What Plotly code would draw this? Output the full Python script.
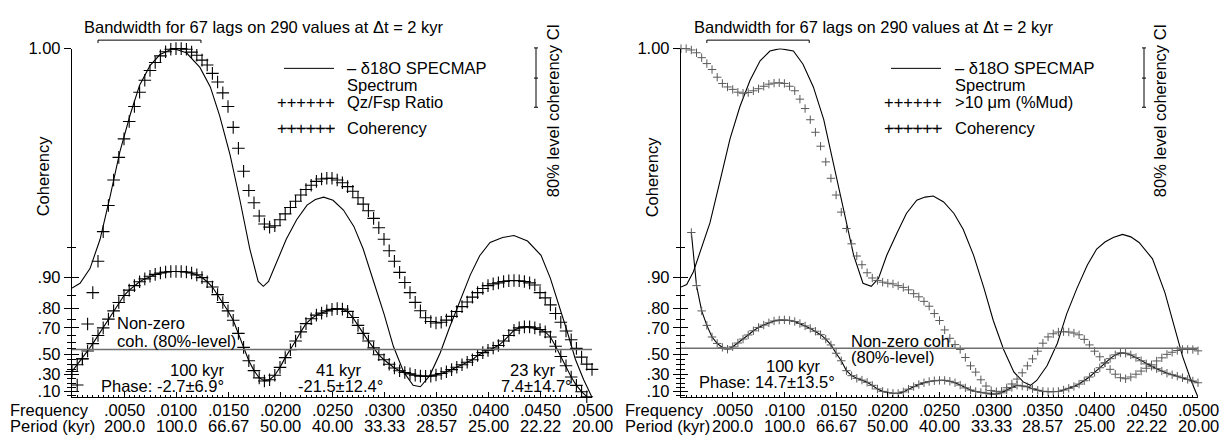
import numpy as np
import plotly.graph_objects as go

W, H = 1231, 444
FONT = "Liberation Sans, Arial, Helvetica, sans-serif"

# ---------------- data (frequencies in 1e-3 cycles/kyr) ----------------
FREQ_STEP = 0.5  # spacing of the spectral estimates (1e-3 cycles/kyr)

# Left panel: d18O SPECMAP spectrum (normalised, 0 = baseline, 1 = top)
L_SPEC_F = [0, 0.77, 1.73, 2.7, 3.65, 4.6, 5.6, 6.5, 7.5, 8.46, 9.74, 11.0, 12.3, 13.3, 14.2,
            15.2, 16.15, 17.1, 17.9, 18.4, 18.9, 19.7, 20.6, 21.6, 22.6, 23.4, 24.2, 25.1, 26.1,
            27.1, 28.0, 29.0, 30.0, 30.9, 31.9, 32.8, 33.5, 34.4, 35.4, 36.3, 37.3, 38.3, 39.2,
            40.2, 41.4, 42.5, 43.8, 45.1, 46.0, 46.7, 47.6, 48.4, 49.2, 50.0]
L_SPEC_S = [0.313, 0.327, 0.369, 0.453, 0.574, 0.704, 0.811, 0.895, 0.951, 0.983, 1.0, 0.988,
            0.946, 0.89, 0.807, 0.695, 0.565, 0.425, 0.332, 0.318, 0.332, 0.388, 0.453, 0.509,
            0.551, 0.567, 0.574, 0.565, 0.537, 0.49, 0.425, 0.332, 0.239, 0.146, 0.072, 0.034,
            0.03, 0.062, 0.127, 0.2, 0.276, 0.351, 0.406, 0.444, 0.458, 0.464, 0.448, 0.407,
            0.341, 0.276, 0.19, 0.109, 0.05, 0.0]

# Left panel: Qz/Fsp ratio spectrum, from f = 0.5
L_QZ_F0 = 0.5
L_QZ_S = [0.035, 0.11, 0.21, 0.30, 0.39, 0.475, 0.55, 0.623, 0.688, 0.741,
          0.791, 0.834, 0.875, 0.909, 0.937, 0.96, 0.979, 0.991, 0.998, 1.0,
          1.0, 0.998, 0.99, 0.981, 0.967, 0.953, 0.929, 0.904, 0.873, 0.834,
          0.774, 0.714, 0.648, 0.593, 0.558, 0.52, 0.497, 0.488, 0.492, 0.509,
          0.526, 0.544, 0.562, 0.58, 0.596, 0.608, 0.619, 0.626, 0.628, 0.628,
          0.623, 0.615, 0.604, 0.591, 0.572, 0.554, 0.535, 0.513, 0.486, 0.453,
          0.42, 0.39, 0.358, 0.329, 0.30, 0.272, 0.248, 0.228, 0.217, 0.213,
          0.215, 0.221, 0.232, 0.246, 0.26, 0.273, 0.287, 0.30, 0.312, 0.32,
          0.325, 0.328, 0.332, 0.334, 0.335, 0.334, 0.332, 0.328, 0.322, 0.30,
          0.285, 0.265, 0.24, 0.215, 0.19, 0.165, 0.14, 0.115, 0.095, 0.08]

# Left panel: coherency, from f = 0
L_COH_F0 = 0.0
L_COH = [0.33, 0.40, 0.46, 0.53, 0.59, 0.65, 0.70, 0.75, 0.79, 0.825,
         0.85, 0.867, 0.88, 0.89, 0.897, 0.903, 0.907, 0.91, 0.912, 0.913,
         0.913, 0.913, 0.912, 0.91, 0.906, 0.90, 0.89, 0.876, 0.853, 0.825,
         0.79, 0.744, 0.665, 0.56, 0.44, 0.34, 0.26, 0.225, 0.24, 0.29,
         0.374, 0.47, 0.54, 0.61, 0.675, 0.725, 0.752, 0.77, 0.78, 0.79,
         0.797, 0.80, 0.798, 0.788, 0.758, 0.715, 0.665, 0.61, 0.556, 0.496,
         0.45, 0.405, 0.368, 0.339, 0.32, 0.305, 0.29, 0.28, 0.278, 0.28,
         0.293, 0.308, 0.327, 0.35, 0.375, 0.40, 0.425, 0.45, 0.49, 0.515,
         0.535, 0.555, 0.575, 0.61, 0.65, 0.685, 0.70, 0.706, 0.706, 0.70,
         0.69, 0.675, 0.64, 0.569, 0.48, 0.39, 0.27, 0.175, 0.10, 0.04]

# Right panel: d18O SPECMAP spectrum
R_SPEC_F = [0, 0.55, 1.2, 1.84, 2.8, 3.77, 4.74, 5.7, 6.68, 7.65, 8.6, 9.58, 10.87, 11.8, 12.8,
            13.8, 14.7, 15.7, 16.7, 17.6, 18.4, 19.1, 19.9, 20.9, 21.8, 22.8, 23.6, 24.4, 25.4,
            26.4, 27.3, 28.3, 29.3, 30.2, 31.2, 32.2, 33.1, 33.8, 34.4, 35.4, 36.4, 37.3, 38.3,
            39.3, 40.2, 41.0, 41.8, 42.7, 43.5, 44.3, 45.6, 46.8, 47.7, 48.5, 49.3, 50.0]
R_SPEC_S = [0.316, 0.323, 0.36, 0.416, 0.5, 0.62, 0.741, 0.834, 0.909, 0.965, 0.993, 1.0, 0.993,
            0.955, 0.89, 0.797, 0.676, 0.537, 0.407, 0.327, 0.318, 0.341, 0.407, 0.472, 0.527,
            0.565, 0.574, 0.577, 0.56, 0.527, 0.481, 0.407, 0.313, 0.22, 0.137, 0.072, 0.044,
            0.034, 0.048, 0.09, 0.155, 0.239, 0.313, 0.379, 0.425, 0.445, 0.458, 0.467, 0.46,
            0.444, 0.397, 0.30, 0.2, 0.118, 0.05, 0.0]

# Right panel: >10 um (%Mud) spectrum, from f = 0
R_MUD_F0 = 0.0
R_MUD_S = [1.0, 1.0, 0.996, 0.988, 0.974, 0.957, 0.94, 0.918, 0.9, 0.89,
           0.883, 0.875, 0.872, 0.874, 0.879, 0.885, 0.892, 0.898, 0.901, 0.902,
           0.9, 0.892, 0.879, 0.855, 0.828, 0.796, 0.76, 0.72, 0.675, 0.628,
           0.58, 0.531, 0.484, 0.44, 0.405, 0.38, 0.357, 0.342, 0.335, 0.33,
           0.327, 0.325, 0.32, 0.315, 0.308, 0.297, 0.288, 0.275, 0.261, 0.24,
           0.22, 0.193, 0.169, 0.151, 0.137, 0.114, 0.09, 0.072, 0.05, 0.032,
           0.019, 0.016, 0.017, 0.027, 0.038, 0.052, 0.07, 0.09, 0.11, 0.132,
           0.155, 0.173, 0.182, 0.187, 0.188, 0.187, 0.184, 0.179, 0.166, 0.15,
           0.132, 0.116, 0.098, 0.08, 0.066, 0.056, 0.053, 0.058, 0.066, 0.075,
           0.083, 0.093, 0.104, 0.113, 0.123, 0.129, 0.134, 0.137, 0.137, 0.137,
           0.133]

# Right panel: coherency, from f = 1.0
R_COH_F0 = 1.0
R_COH = [0.965, 0.88, 0.79, 0.715, 0.64, 0.592, 0.56, 0.545, 0.565, 0.595,
         0.625, 0.654, 0.682, 0.703, 0.717, 0.73, 0.74, 0.745, 0.746, 0.743,
         0.737, 0.726, 0.712, 0.697, 0.679, 0.656, 0.625, 0.58, 0.51, 0.44,
         0.339, 0.285, 0.255, 0.235, 0.21, 0.175, 0.133, 0.104, 0.09, 0.081,
         0.08, 0.098, 0.13, 0.16, 0.185, 0.205, 0.219, 0.228, 0.232, 0.232,
         0.222, 0.205, 0.178, 0.145, 0.12, 0.103, 0.092, 0.083, 0.072, 0.072,
         0.087, 0.119, 0.15, 0.176, 0.168, 0.158, 0.135, 0.117, 0.105, 0.1,
         0.1, 0.103, 0.12, 0.14, 0.162, 0.19, 0.228, 0.27, 0.32, 0.37,
         0.42, 0.46, 0.495, 0.513, 0.51, 0.495, 0.47, 0.44, 0.41, 0.385,
         0.36, 0.335, 0.312, 0.295, 0.28, 0.262, 0.243, 0.225, 0.205]

NONZERO_L = 0.543
NONZERO_R = 0.553
BW_START, BW_WIDTH = 2.5, 9.9

FREQ_TICKS = [5, 10, 15, 20, 25, 30, 35, 40, 45, 50]
FREQ_TEXT = [".0050", ".0100", ".0150", ".0200", ".0250", ".0300", ".0350", ".0400", ".0450", ".0500"]
PERIOD_TEXT = ["200.0", "100.0", "66.67", "50.00", "40.00", "33.33", "28.57", "25.00", "22.22", "20.00"]
COH_LABELED = [1.00, 0.90, 0.80, 0.70, 0.50, 0.30, 0.10]
COH_LABEL_TEXT = ["1.00", ".90", ".80", ".70", ".50", ".30", ".10"]
COH_MINOR = [0.95, 0.85, 0.75, 0.65, 0.60, 0.55, 0.45, 0.40, 0.35, 0.25, 0.20, 0.15, 0.05]

# ---------------- scales ----------------
V_LO, V_HI = 0.034, 4.225   # y axis in atanh(coherency) units


def coh_v(c):
    c = np.asarray(c, dtype=float)
    return np.arctanh(np.minimum(c, np.tanh(V_HI)))


def spec_v(s):
    return V_LO + np.asarray(s, dtype=float) * (V_HI - V_LO)


def fx(f):
    return np.asarray(f, dtype=float) / 1000.0


def grid(f0, vals):
    return fx(f0 + FREQ_STEP * np.arange(len(vals)))


def px(x, y):
    return x / W, 1 - y / H


fig = go.Figure()
BLACK = "black"
GRAY_MK = "#5a5a5a"
TXT = 16.5

# Left panel traces
fig.add_trace(go.Scatter(x=fx(L_SPEC_F), y=spec_v(L_SPEC_S), mode="lines",
                         line=dict(color=BLACK, width=1.1), xaxis="x", yaxis="y",
                         showlegend=False, hoverinfo="skip"))
fig.add_trace(go.Scatter(x=grid(L_QZ_F0, L_QZ_S), y=spec_v(L_QZ_S), mode="markers",
                         marker=dict(symbol="cross-thin", size=9, line=dict(color=BLACK, width=1.1)),
                         xaxis="x", yaxis="y", showlegend=False, hoverinfo="skip", cliponaxis=False))
fig.add_trace(go.Scatter(x=grid(L_COH_F0, L_COH), y=coh_v(L_COH), mode="lines+markers",
                         line=dict(color=BLACK, width=1.1),
                         marker=dict(symbol="cross-thin", size=9, line=dict(color=BLACK, width=1.1)),
                         xaxis="x", yaxis="y", showlegend=False, hoverinfo="skip", cliponaxis=False))

# Right panel traces
fig.add_trace(go.Scatter(x=fx(R_SPEC_F), y=spec_v(R_SPEC_S), mode="lines",
                         line=dict(color=BLACK, width=1.1), xaxis="x2", yaxis="y2",
                         showlegend=False, hoverinfo="skip"))
fig.add_trace(go.Scatter(x=grid(R_MUD_F0, R_MUD_S), y=spec_v(R_MUD_S), mode="markers",
                         marker=dict(symbol="cross-thin", size=6, line=dict(color=GRAY_MK, width=1)),
                         xaxis="x2", yaxis="y2", showlegend=False, hoverinfo="skip", cliponaxis=False))
fig.add_trace(go.Scatter(x=grid(R_COH_F0, R_COH), y=coh_v(R_COH), mode="lines+markers",
                         line=dict(color=BLACK, width=1.1),
                         marker=dict(symbol="cross-thin", size=6, line=dict(color=GRAY_MK, width=1)),
                         xaxis="x2", yaxis="y2", showlegend=False, hoverinfo="skip", cliponaxis=False))

# empty traces so the overlay tick axes get drawn
fig.add_trace(go.Scatter(x=[], y=[], xaxis="x", yaxis="y3", showlegend=False))
fig.add_trace(go.Scatter(x=[], y=[], xaxis="x2", yaxis="y4", showlegend=False))

Y_DOM = [1 - 399 / H, 1 - 40.7 / H]
XL_DOM = [72 / W, 592 / W]
XR_DOM = [681 / W, 1198 / W]


def xaxis_def(dom, anchor):
    return dict(domain=dom, anchor=anchor, range=[0, 0.05], showline=True, linecolor=BLACK,
                linewidth=1, ticks="inside", tickvals=fx(FREQ_TICKS), ticklen=5, tickwidth=1,
                tickcolor=BLACK, showticklabels=False, showgrid=False, zeroline=False,
                minor=dict(ticks="inside", tick0=0, dtick=0.0005, ticklen=2.5, tickwidth=1,
                           tickcolor=BLACK, showgrid=False))


def yaxis_def(anchor, outside=True, overlay=None):
    d = dict(domain=Y_DOM, anchor=anchor, range=[V_LO, V_HI], showgrid=False, zeroline=False,
             ticks="outside" if outside else "inside", tickvals=coh_v(COH_LABELED),
             ticktext=COH_LABEL_TEXT, ticklen=7, tickwidth=1, tickcolor=BLACK,
             minor=dict(ticks="outside" if outside else "inside", tickvals=coh_v(COH_MINOR),
                        ticklen=4, tickwidth=1, tickcolor=BLACK, showgrid=False),
             tickfont=dict(size=TXT, color=BLACK, family=FONT))
    if outside:
        d.update(showline=True, linecolor=BLACK, linewidth=1.3, showticklabels=True)
    else:
        d.update(showline=False, showticklabels=False, overlaying=overlay, side="left")
    return d


fig.update_layout(
    width=W, height=H, autosize=False,
    margin=dict(l=0, r=0, t=0, b=0),
    paper_bgcolor="white", plot_bgcolor="white",
    font=dict(family=FONT, size=TXT, color=BLACK),
    xaxis=xaxis_def(XL_DOM, "y"),
    xaxis2=xaxis_def(XR_DOM, "y2"),
    yaxis=yaxis_def("x"),
    yaxis2=yaxis_def("x2"),
    yaxis3=yaxis_def("x", outside=False, overlay="y"),
    yaxis4=yaxis_def("x2", outside=False, overlay="y2"),
    showlegend=False,
)

shapes = []
annos = []


def text(x, y, s, xanchor="center", size=TXT, angle=0, color=BLACK, yanchor="middle"):
    X, Y = px(x, y)
    annos.append(dict(x=X, y=Y, xref="paper", yref="paper", text=s, showarrow=False,
                      xanchor=xanchor, yanchor=yanchor, textangle=angle,
                      font=dict(size=size, color=color, family=FONT)))


def pline(x0, y0, x1, y1, width=1.0, color=BLACK):
    X0, Y0 = px(x0, y0)
    X1, Y1 = px(x1, y1)
    shapes.append(dict(type="line", xref="paper", yref="paper", x0=X0, y0=Y0, x1=X1, y1=Y1,
                       line=dict(color=color, width=width)))


panels = [
    dict(xa="x", ya="y", nz=NONZERO_L, bw_c=264, leg_x=336, leg_tx=345, ci_x=536, ci_tx=553,
         ylab_x=43, freq_lab_x=8, mk_label="Qz/Fsp Ratio"),
    dict(xa="x2", ya="y2", nz=NONZERO_R, bw_c=874, leg_x=943, leg_tx=953, ci_x=1144, ci_tx=1160,
         ylab_x=652, freq_lab_x=623, mk_label=">10 \u03bcm (%Mud)"),
]

for p in panels:
    # non-zero coherency level
    shapes.append(dict(type="line", xref=p["xa"], yref=p["ya"], x0=0, x1=0.05,
                       y0=float(coh_v(p["nz"])), y1=float(coh_v(p["nz"])),
                       line=dict(color="#6e6e6e", width=1.6)))
    # bandwidth bracket
    bx0, bx1 = BW_START / 1000, (BW_START + BW_WIDTH) / 1000
    yb = 1 - 32 / H
    yt = 1 - 35 / H
    shapes.append(dict(type="line", xref=p["xa"], yref="paper", x0=bx0, x1=bx1, y0=yb, y1=yb,
                       line=dict(color=BLACK, width=1)))
    for bx in (bx0, bx1):
        shapes.append(dict(type="line", xref=p["xa"], yref="paper", x0=bx, x1=bx, y0=yb, y1=yt,
                           line=dict(color=BLACK, width=1)))
    text(p["bw_c"], 18, "Bandwidth for 67 lags on 290 values at \u0394t = 2 kyr")
    # legend
    lx = p["leg_x"]
    pline(lx - 52, 61, lx - 2, 61, width=1)
    text(p["leg_tx"], 61, "\u2013 \u03b418O SPECMAP", xanchor="left")
    text(p["leg_tx"], 78, "Spectrum", xanchor="left")
    text(lx + 1, 96, "++++++", xanchor="right")
    text(p["leg_tx"], 96, p["mk_label"], xanchor="left")
    text(lx + 1, 122, "++++++", xanchor="right")
    pline(lx - 56, 122.5, lx - 1, 122.5, width=1)
    text(p["leg_tx"], 122, "Coherency", xanchor="left")
    # CI bracket
    cx = p["ci_x"]
    pline(cx, 40, cx, 101, width=1)
    for yy in (40, 71, 101):
        pline(cx - 2, yy, cx + 2, yy, width=1)
    text(p["ci_tx"], 105, "80% level coherency CI", angle=-90)
    # y label
    text(p["ylab_x"], 172, "Coherency", angle=-90)
    # frequency / period rows
    text(p["freq_lab_x"], 412, "Frequency", xanchor="left")
    text(p["freq_lab_x"], 429, "Period (kyr)", xanchor="left")
    for f, ft, pt in zip(FREQ_TICKS, FREQ_TEXT, PERIOD_TEXT):
        for yy, s in ((412, ft), (429, pt)):
            annos.append(dict(x=f / 1000, y=1 - yy / H, xref=p["xa"], yref="paper", text=s,
                              showarrow=False, xanchor="center", yanchor="middle",
                              font=dict(size=TXT, color=BLACK, family=FONT)))

# panel-specific labels
text(115, 323, "Non-zero", xanchor="left")
text(115, 341, "coh. (80%-level)", xanchor="left")
text(197, 371, "100 kyr")
text(162, 387, "Phase: -2.7\u00b16.9\u00b0")
text(338, 371, "41 kyr")
text(340, 387, "-21.5\u00b112.4\u00b0")
text(532, 371, "23 kyr")
text(536, 387, "7.4\u00b114.7\u00b0")

text(849, 341, "Non-zero coh.", xanchor="left")
text(849, 358, "(80%-level)", xanchor="left")
text(793, 367, "100 kyr")
text(767, 383, "Phase: 14.7\u00b113.5\u00b0")

fig.update_layout(shapes=shapes, annotations=annos)
fig.write_html("out.html")
